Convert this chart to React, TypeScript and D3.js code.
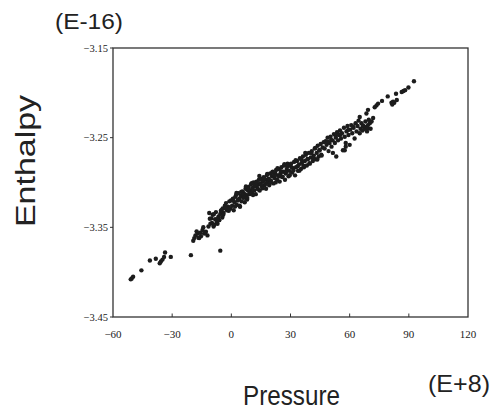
import React from "react";
import * as d3 from "d3";

const xTicks = [-60, -30, 0, 30, 60, 90, 120];
const yTicks = [-3.15, -3.25, -3.35, -3.45];
const yTickLabels = ["\u22123.15", "\u22123.25", "\u22123.35", "\u22123.45"];
const xTickLabels = ["\u221260", "\u221230", "0", "30", "60", "90", "120"];

// Pressure (E+8), Enthalpy (E-16)
const outliers: [number, number][] = [
  [-50.5, -3.407], [-51.0, -3.408], [-49.8, -3.405], [-45.6, -3.398], [-41.3, -3.387],
  [-38.3, -3.385], [-36.3, -3.390], [-35.7, -3.388], [-34.9, -3.386], [-34.1, -3.383],
  [-33.6, -3.378], [-30.7, -3.383], [-20.5, -3.381], [-5.6, -3.376],
];
const bandLeft: [number, number][] = [
  [-19.3, -3.365], [-18.8, -3.362], [-18.2, -3.359], [-17.1, -3.357], [-16.3, -3.362], [-15.8, -3.356],
  [-15.4, -3.360], [-14.6, -3.353], [-13.8, -3.357], [-12.9, -3.355], [-12.1, -3.359], [-11.6, -3.349],
  [-11.2, -3.334], [-10.6, -3.346], [-10.1, -3.340], [-9.5, -3.336], [-9.0, -3.349], [-8.6, -3.347],
  [-8.2, -3.341], [-7.8, -3.333], [-7.4, -3.344], [-7.0, -3.346], [-6.5, -3.338], [-6.1, -3.342],
  [-5.6, -3.335], [-5.0, -3.331], [-4.6, -3.339], [-4.4, -3.329], [-3.9, -3.334], [-3.3, -3.326],
  [-2.7, -3.323], [-2.2, -3.331], [-1.6, -3.327], [-1.0, -3.321], [-0.5, -3.329], [-0.2, -3.320],
  [-17.6, -3.3545], [-16.7, -3.3617], [-14.2, -3.3498], [-13.3, -3.3561], [-10.9, -3.3404],
  [-9.8, -3.3452], [-8.9, -3.3354], [-6.8, -3.3403], [-5.3, -3.3314], [-4.1, -3.336],
  [-2.9, -3.3287], [-1.3, -3.3315],
];
const bandA: [number, number][] = [
  [0.4, -3.326], [0.8, -3.318], [1.2, -3.331], [1.6, -3.322], [2.0, -3.316], [2.4, -3.314],
  [2.8, -3.325], [3.2, -3.320], [3.6, -3.312], [4.0, -3.318], [4.4, -3.327], [4.8, -3.315],
  [5.2, -3.321], [5.6, -3.310], [6.0, -3.317], [6.4, -3.312], [6.8, -3.322], [7.2, -3.307],
  [7.6, -3.314], [8.0, -3.319], [8.4, -3.309], [8.8, -3.305], [9.2, -3.313], [9.6, -3.309],
  [0.9, -3.3195], [1.9, -3.3268], [2.6, -3.3116], [3.4, -3.3192], [4.2, -3.3259], [5.0, -3.3105],
  [5.9, -3.314], [6.6, -3.3168], [7.4, -3.3044], [8.1, -3.3172], [8.7, -3.3072], [9.4, -3.311],
];
const bandB: [number, number][] = [
  [10.0, -3.302], [10.4, -3.311], [10.8, -3.306], [11.2, -3.300], [11.6, -3.309], [12.0, -3.304],
  [12.4, -3.313], [12.8, -3.299], [13.2, -3.306], [13.6, -3.302], [14.0, -3.297], [14.4, -3.309],
  [14.8, -3.301], [15.2, -3.296], [15.6, -3.305], [16.0, -3.299], [16.4, -3.294], [16.8, -3.303],
  [17.2, -3.297], [17.6, -3.307], [18.0, -3.292], [18.4, -3.300], [18.8, -3.296], [19.2, -3.303],
  [10.3, -3.3008], [11.0, -3.3139], [11.9, -3.3037], [12.6, -3.2998], [13.5, -3.3076], [14.2, -3.2927],
  [15.0, -3.3026], [15.9, -3.3064], [16.6, -3.2955], [17.4, -3.3015], [18.2, -3.2904], [19.0, -3.2964],
];
const bandC: [number, number][] = [
  [19.7, -3.290], [20.1, -3.298], [20.6, -3.293], [21.0, -3.288], [21.4, -3.301], [21.9, -3.295],
  [22.3, -3.290], [22.7, -3.286], [23.2, -3.297], [23.6, -3.292], [24.0, -3.285], [24.5, -3.299],
  [24.9, -3.290], [25.4, -3.283], [25.8, -3.294], [26.3, -3.288], [26.8, -3.281], [27.2, -3.297],
  [27.6, -3.290], [28.1, -3.285], [28.5, -3.279], [29.0, -3.293], [29.4, -3.287], [29.8, -3.280],
  [19.9, -3.3004], [20.8, -3.2885], [21.6, -3.2927], [22.5, -3.2999], [23.4, -3.284], [24.2, -3.2932],
  [25.1, -3.2873], [26.0, -3.2934], [26.9, -3.2796], [27.8, -3.2877], [28.7, -3.2818], [29.6, -3.2919],
];
const bandD: [number, number][] = [
  [30.3, -3.279], [30.8, -3.289], [31.3, -3.284], [31.8, -3.277], [32.3, -3.292], [32.8, -3.283],
  [33.3, -3.276], [33.8, -3.287], [34.3, -3.280], [34.8, -3.273], [35.3, -3.285], [35.8, -3.278],
  [36.3, -3.271], [36.8, -3.283], [37.3, -3.276], [37.8, -3.269], [38.3, -3.281], [38.8, -3.274],
  [39.3, -3.267], [39.8, -3.279], [40.3, -3.272], [40.8, -3.265], [41.3, -3.276], [41.8, -3.270],
  [42.3, -3.262], [42.8, -3.274], [43.3, -3.267], [43.8, -3.259], [44.3, -3.271], [44.8, -3.264],
  [45.3, -3.257], [45.8, -3.270], [46.3, -3.261], [46.8, -3.255],
  [30.5, -3.2828], [31.5, -3.2865], [32.6, -3.2751], [33.6, -3.2819], [34.5, -3.2868], [35.5, -3.2745],
  [36.5, -3.2813], [37.5, -3.267], [38.6, -3.2736], [39.6, -3.2784], [40.6, -3.2671], [41.6, -3.2729],
  [42.6, -3.2616], [43.6, -3.2744], [44.6, -3.2641], [45.6, -3.2689],
];
const bandE: [number, number][] = [
  [47.3, -3.262], [47.8, -3.254], [48.3, -3.258], [48.8, -3.250], [49.3, -3.265], [49.8, -3.256],
  [50.3, -3.249], [50.8, -3.260], [51.3, -3.253], [51.5, -3.267], [52.0, -3.246], [52.5, -3.256],
  [53.0, -3.250], [53.2, -3.271], [53.6, -3.244], [54.1, -3.253], [54.6, -3.247], [55.1, -3.242],
  [55.6, -3.251], [56.1, -3.245], [56.6, -3.264], [57.1, -3.239], [57.5, -3.249], [58.0, -3.256],
  [58.4, -3.243], [58.9, -3.237], [59.4, -3.247], [60.0, -3.258], [60.3, -3.241], [60.8, -3.236],
  [61.3, -3.245], [62.0, -3.239], [62.5, -3.251], [63.0, -3.234], [63.5, -3.243], [64.0, -3.237],
  [64.5, -3.231], [65.1, -3.245], [65.5, -3.240], [66.0, -3.234], [66.5, -3.242], [67.0, -3.237],
  [67.6, -3.240], [68.0, -3.232], [68.4, -3.238], [68.8, -3.243], [69.3, -3.236], [69.7, -3.230],
  [70.2, -3.234], [70.6, -3.240], [71.1, -3.232], [57.5, -3.264], [58.0, -3.260],
  [48.9, -3.2545], [50.6, -3.2525], [52.8, -3.2475], [55.3, -3.2468], [59.2, -3.2415], [61.7, -3.2375],
  [66.7, -3.2368], [69.0, -3.2395],
];
const upperTail: [number, number][] = [
  [65.1, -3.227], [68.5, -3.223], [69.3, -3.219], [71.9, -3.228], [73.6, -3.214], [72.7, -3.216],
  [74.4, -3.212], [76.4, -3.209], [79.3, -3.204], [81.2, -3.211], [82.0, -3.210], [82.6, -3.211],
  [81.6, -3.213], [83.5, -3.201], [83.9, -3.208], [86.4, -3.199], [87.3, -3.198], [88.1, -3.197],
  [89.8, -3.194], [92.6, -3.187],
];

const points = [...outliers, ...bandLeft, ...bandA, ...bandB, ...bandC, ...bandD, ...bandE, ...upperTail];

export default function App() {
  const W = 497, H = 410;
  const x = d3.scaleLinear().domain([-60, 120]).range([113, 468]);
  const y = d3.scaleLinear().domain([-3.15, -3.45]).range([48, 317]);
  const serif = "'Liberation Serif', 'DejaVu Serif', serif";
  const sans = "'Liberation Sans', Arial, sans-serif";
  return (
    <svg width={W} height={H} style={{ position: "absolute", left: 0, top: 0, background: "#fff" }}>
      <rect x={0} y={0} width={W} height={H} fill="#fff" />
      <rect x={113} y={48} width={355} height={269} fill="none" stroke="#333" strokeWidth={1.3} />
      {yTicks.map((t, i) => (
        <g key={"y" + i}>
          <line x1={110} x2={113} y1={y(t)} y2={y(t)} stroke="#333" strokeWidth={1} />
          <text x={108} y={y(t) + 3.5} textAnchor="end" fontFamily={serif} fontSize={10.5} fill="#222">
            {yTickLabels[i]}
          </text>
        </g>
      ))}
      {xTicks.map((t, i) => (
        <g key={"x" + i}>
          {i > 0 && i < xTicks.length - 1 && (
            <line x1={x(t)} x2={x(t)} y1={317} y2={313.5} stroke="#333" strokeWidth={1} />
          )}
          <text x={x(t)} y={338} textAnchor="middle" fontFamily={serif} fontSize={11} fill="#222">
            {xTickLabels[i]}
          </text>
        </g>
      ))}
      {points.map((p, i) => (
        <circle key={i} cx={x(p[0])} cy={y(p[1])} r={2.2} fill="#1c1c1c" />
      ))}
      <text x={55} y={29} fontFamily={sans} fontSize={22} fill="#222" textLength={68} lengthAdjust="spacingAndGlyphs">
        (E-16)
      </text>
      <text x={428} y={392} fontFamily={sans} fontSize={24} fill="#222" textLength={62} lengthAdjust="spacingAndGlyphs">
        (E+8)
      </text>
      <text x={243} y={405} fontFamily={sans} fontSize={28} fill="#222" textLength={97} lengthAdjust="spacingAndGlyphs">
        Pressure
      </text>
      <text
        transform="translate(35,227) rotate(-90)"
        fontFamily={sans}
        fontSize={27}
        fill="#222"
        textLength={132}
        lengthAdjust="spacingAndGlyphs"
      >
        Enthalpy
      </text>
    </svg>
  );
}
